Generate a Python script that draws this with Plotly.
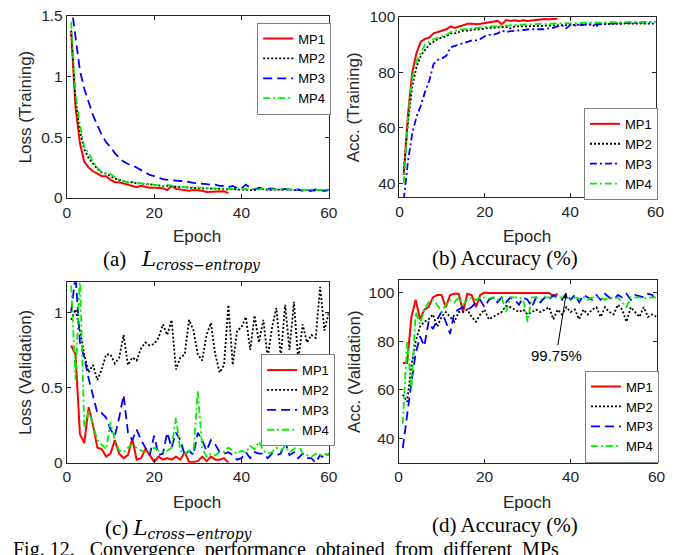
import plotly.graph_objects as go

W, H = 697, 555

# ---------------- data ----------------
ep60 = list(range(1, 61))
ep37 = list(range(1, 38))

# (a) training loss
loss_tr_mp1 = [1.37, 0.75, 0.45, 0.30, 0.25, 0.22, 0.20, 0.18, 0.18, 0.15, 0.13, 0.13, 0.12, 0.11, 0.10,
               0.09, 0.10, 0.09, 0.085, 0.085, 0.08, 0.08, 0.065, 0.10, 0.075, 0.07, 0.07, 0.06, 0.065, 0.065,
               0.06, 0.05, 0.05, 0.05, 0.05, 0.055, 0.04]
loss_tr_mp2 = [1.38, 0.80, 0.55, 0.40, 0.33, 0.28, 0.24, 0.21, 0.20, 0.18, 0.16, 0.15, 0.14, 0.13, 0.13,
               0.12, 0.12, 0.115, 0.11, 0.11, 0.105, 0.10, 0.10, 0.095, 0.09, 0.09, 0.09, 0.085, 0.085, 0.08,
               0.08, 0.08, 0.08, 0.075, 0.075, 0.075, 0.07, 0.075, 0.07, 0.07, 0.07, 0.07, 0.065, 0.075, 0.07,
               0.07, 0.065, 0.07, 0.07, 0.075, 0.07, 0.065, 0.065, 0.07, 0.065, 0.06, 0.065, 0.065, 0.06, 0.065]
loss_tr_mp3 = [1.60, 1.30, 1.05, 0.90, 0.78, 0.68, 0.60, 0.52, 0.46, 0.42, 0.37, 0.33, 0.30, 0.28, 0.27,
               0.25, 0.23, 0.21, 0.19, 0.18, 0.165, 0.155, 0.15, 0.145, 0.14, 0.14, 0.14, 0.13, 0.125, 0.12,
               0.12, 0.115, 0.11, 0.11, 0.10, 0.10, 0.09, 0.10, 0.08, 0.08, 0.11, 0.085, 0.07, 0.085, 0.08,
               0.075, 0.08, 0.075, 0.07, 0.075, 0.07, 0.065, 0.07, 0.06, 0.065, 0.06, 0.07, 0.065, 0.06, 0.07]
loss_tr_mp4 = [1.45, 0.85, 0.60, 0.42, 0.37, 0.30, 0.25, 0.21, 0.20, 0.20, 0.17, 0.15, 0.14, 0.13, 0.13,
               0.125, 0.12, 0.115, 0.11, 0.11, 0.105, 0.10, 0.11, 0.10, 0.095, 0.09, 0.09, 0.09, 0.085, 0.085,
               0.085, 0.08, 0.08, 0.08, 0.075, 0.075, 0.075, 0.075, 0.07, 0.075, 0.075, 0.07, 0.075, 0.07, 0.08,
               0.075, 0.07, 0.07, 0.075, 0.08, 0.07, 0.075, 0.07, 0.065, 0.065, 0.07, 0.065, 0.065, 0.07, 0.07]

# (b) training accuracy
acc_tr_mp1 = [43, 65, 80, 87, 91, 92, 92.5, 94, 94.5, 95, 95.5, 96.5, 96, 96.5, 97,
              97.5, 97.5, 97.3, 97.5, 97.8, 98, 98.2, 98.5, 97.3, 98.8, 98.5, 98.7, 98.5, 98.7, 98.5,
              98.6, 98.7, 99, 99.2, 99, 99.2, 99.3]
acc_tr_mp2 = [44, 62, 75, 82, 86, 88, 90, 91, 92, 92.5, 93, 94, 94, 94.5, 95,
              95, 95.3, 95.5, 95.5, 95.8, 96, 96, 96.2, 96.3, 96.3, 95.8, 96.5, 96.5, 96.4, 96.5,
              96.6, 96.7, 96.6, 96.8, 96.8, 96.9, 97, 96.8, 97, 97, 97.1, 97.2, 97.1, 97.3, 97.2,
              96.5, 97.3, 97.4, 97.4, 97.5, 97.5, 97.4, 97.6, 97.5, 97.6, 97.5, 97.6, 97.5, 97.6, 97.5]
acc_tr_mp3 = [34, 48, 58, 64, 68, 73, 77, 83, 84.5, 85, 86, 89, 89.5, 90, 90.5,
              91, 91.5, 91.5, 92, 93, 93.5, 93.5, 94, 95, 94.5, 94.8, 95, 95.2, 95.3, 95.4,
              95.5, 95.5, 95.6, 95.5, 95.8, 96, 96.5, 97, 95.8, 97, 96.8, 97, 97.1, 97.2, 97.2,
              97.3, 97.4, 97.5, 97.5, 97.6, 97.6, 97.7, 97.7, 97.8, 97.8, 97.8, 97.9, 97.9, 98, 98.2]
acc_tr_mp4 = [40, 64, 78, 84, 87, 90, 91, 92, 92.5, 93, 93.5, 94.5, 95, 95.3, 95.5,
              95.5, 95.8, 96, 96, 96.2, 96.5, 96.5, 96.7, 96.8, 96.8, 97, 97, 97.1, 97.2, 97.2,
              97.3, 97.3, 97.4, 97.4, 97.5, 97.5, 97.6, 97.6, 97.7, 97.6, 97.7, 97.8, 97.8, 97.8, 97.9,
              98, 97.9, 98, 98, 98, 98.1, 98, 98.1, 98.1, 98.2, 98.1, 98.1, 98.2, 98.1, 98.2]

# (c) validation loss
loss_va_mp1 = [0.78, 0.72, 0.19, 0.13, 0.37, 0.25, 0.10, 0.09, 0.04, 0.06, 0.15, 0.06, 0.03, 0.05, 0.16,
               0.02, 0.03, 0.09, 0.05, 0.005, 0.04, 0.02, 0.03, 0.02, 0.04, 0.02, 0.07, 0.005, 0.005, 0.01,
               0.04, 0.01, 0.04, 0.02, 0.02, 0.03, 0.0]
loss_va_mp2 = [0.95, 1.02, 0.88, 0.72, 0.60, 0.65, 0.55, 0.62, 0.72, 0.72, 0.66, 0.70, 0.85, 0.65, 0.70,
               0.68, 0.76, 0.80, 0.78, 0.79, 0.83, 0.92, 0.85, 0.95, 0.62, 0.70, 0.72, 0.95, 0.88, 0.72,
               0.68, 0.85, 0.93, 0.72, 0.60, 0.65, 1.05, 0.65, 0.88, 0.90, 0.97, 0.75, 0.98, 0.80, 0.95,
               0.70, 0.90, 1.03, 0.70, 1.05, 0.75, 1.07, 0.68, 0.92, 0.80, 0.85, 0.83, 1.17, 0.88, 1.00]
loss_va_mp3 = [1.00, 1.25, 0.80, 0.70, 0.56, 0.45, 0.33, 0.33, 0.30, 0.22, 0.18, 0.30, 0.45, 0.20, 0.15,
               0.22, 0.15, 0.10, 0.05, 0.18, 0.05, 0.06, 0.20, 0.10, 0.20, 0.15, 0.05, 0.08, 0.05, 0.20,
               0.15, 0.08, 0.15, 0.12, 0.07, 0.06, 0.07, 0.05, 0.02, 0.03, 0.07, 0.03, 0.07, 0.06, 0.06,
               0.03, 0.06, 0.05, 0.06, 0.14, 0.05, 0.07, 0.03, 0.06, 0.03, 0.03, 0.0, 0.05, 0.03, 0.06]
loss_va_mp4 = [1.18, 0.55, 1.25, 0.24, 0.35, 0.25, 0.15, 0.12, 0.09, 0.27, 0.15, 0.08, 0.07, 0.10, 0.12,
               0.10, 0.08, 0.07, 0.08, 0.10, 0.08, 0.07, 0.08, 0.10, 0.30, 0.08, 0.06, 0.08, 0.06, 0.48,
               0.10, 0.04, 0.06, 0.05, 0.07, 0.07, 0.10, 0.08, 0.06, 0.08, 0.07, 0.11, 0.09, 0.14, 0.08,
               0.06, 0.07, 0.10, 0.08, 0.11, 0.07, 0.09, 0.12, 0.06, 0.05, 0.04, 0.06, 0.05, 0.06, 0.05]

# (d) validation accuracy
acc_va_mp1 = [71, 71, 90, 97, 89, 93, 94, 98, 99, 99, 94, 99, 99.5, 99.5, 92,
              99.5, 99, 94, 99, 100, 99.8, 99.8, 99.8, 99.8, 99.8, 99.8, 99.8, 100, 100, 100,
              100, 100, 99.8, 99.8, 99.8, 98.5, 99.5]
acc_va_mp2 = [58, 55, 70, 80, 86, 88, 89, 91, 86, 90, 92, 90, 88, 92, 92,
              93, 90, 88, 91, 93, 89, 90, 91, 92, 94.5, 94, 93, 92, 93, 91,
              92, 93, 92, 93, 94, 89, 93, 91, 94, 92, 93, 89, 93, 91, 93,
              94, 90, 94, 92, 91, 95, 93, 88, 94, 92, 90, 94, 90, 91, 90]
acc_va_mp3 = [36, 50, 63, 75, 82, 78, 88, 85, 89, 92, 88, 83, 92, 93, 94,
              93, 94, 96, 97, 94, 97, 98, 96, 98, 96, 98, 97, 95, 98, 97,
              94, 98, 96, 98, 97, 99, 98, 97, 99.75, 97, 99, 96, 99, 98, 97,
              99, 97, 99.5, 98, 97, 99, 98, 99.5, 97, 99, 98.5, 98, 99.5, 99, 96]
acc_va_mp4 = [46, 80, 60, 92, 87, 93, 96, 97, 95, 92, 95, 97, 96, 98, 95,
              97, 98, 97, 98, 98, 97.5, 98, 97, 98, 92, 98, 98, 98, 97, 88,
              98, 98, 97, 98, 98, 98, 98, 98, 98, 97, 98, 97.5, 98, 97, 98,
              98, 98, 97, 98, 97.5, 98, 96, 94, 98, 98, 98, 97.5, 98, 98, 98]

names = ["MP1", "MP2", "MP3", "MP4"]
x_tick_step = 20
y_tick_step = {1: 0.5, 2: 20, 3: 0.5, 4: 20}

# ---------------- layout helpers (page pixels -> paper fraction) ----------------
def px_x(p):
    return p / W

def px_y(p):
    return 1 - p / H

AX = "#262626"
SANS = "Liberation Sans, Arial, sans-serif"
TICKF = dict(family=SANS, size=15.5, color=AX)

panels = {
    # (left, right, top, bottom) in page pixels
    1: (64, 331, 7, 195),
    2: (403, 664, 8, 194),
    3: (64, 331, 282, 468),
    4: (402, 665, 280, 468),
}
yranges = {1: [0, 1.5], 2: [35, 100], 3: [0, 1.2], 4: [30, 105]}

fig = go.Figure()

colors = ["#ff0000", "#000000", "#0000ff", "#00f000"]
DOT = "2px,2px"
DASH = "9px,5px"
DASHDOT = "7px,3px,2px,3px"
styles = {
    1: ["solid", DOT, DASH, DASHDOT],
    2: ["solid", DOT, DASHDOT, DASHDOT],
    3: ["solid", DOT, DASH, DASHDOT],
    4: ["solid", DOT, DASH, DASHDOT],
}
data = {
    1: [(ep37, loss_tr_mp1), (ep60, loss_tr_mp2), (ep60, loss_tr_mp3), (ep60, loss_tr_mp4)],
    2: [(ep37, acc_tr_mp1), (ep60, acc_tr_mp2), (ep60, acc_tr_mp3), (ep60, acc_tr_mp4)],
    3: [(ep37, loss_va_mp1), (ep60, loss_va_mp2), (ep60, loss_va_mp3), (ep60, loss_va_mp4)],
    4: [(ep37, acc_va_mp1), (ep60, acc_va_mp2), (ep60, acc_va_mp3), (ep60, acc_va_mp4)],
}
legend_pos = {1: (258, 14), 2: (591, 102), 3: (262, 356), 4: (592, 373)}

layout = {}
for k in range(1, 5):
    sfx = "" if k == 1 else str(k)
    lg = "legend" if k == 1 else f"legend{k}"
    for i in range(4):
        xs, ys = data[k][i]
        fig.add_trace(go.Scatter(
            x=xs, y=ys, mode="lines", name=names[i],
            line=dict(color=colors[i], width=2 if i == 0 else 1.8, dash=styles[k][i]),
            xaxis=f"x{sfx}", yaxis=f"y{sfx}", legend=lg, showlegend=True,
        ))
    l, r, t, b = panels[k]
    layout[f"xaxis{sfx}"] = dict(
        domain=[px_x(l), px_x(r)], range=[0, 60], anchor=f"y{sfx}",
        tickmode="linear", tick0=0, dtick=x_tick_step,
        ticks="inside", ticklen=4, tickcolor=AX,
        showline=True, linecolor=AX, linewidth=1, mirror="ticks",
        showgrid=False, zeroline=False, tickfont=TICKF,
        ticklabeloverflow="allow",
    )
    layout[f"yaxis{sfx}"] = dict(
        domain=[px_y(b), px_y(t)], range=yranges[k], anchor=f"x{sfx}",
        tickmode="linear", tick0=0, dtick=y_tick_step[k],
        ticks="inside", ticklen=4, tickcolor=AX,
        showline=True, linecolor=AX, linewidth=1, mirror="ticks",
        showgrid=False, zeroline=False, tickfont=TICKF,
        ticklabeloverflow="allow",
    )
    lx, ly = legend_pos[k]
    layout[lg] = dict(
        x=px_x(lx), y=px_y(ly), xanchor="left", yanchor="top",
        bgcolor="white", bordercolor="#808080", borderwidth=1,
        font=dict(family=SANS, size=13, color="black"),
        itemwidth=30, tracegroupgap=0,
    )

annotations = []
LBL = dict(family=SANS, size=17, color=AX)
ylabels = {1: ("Loss (Training)", 22, 101), 2: ("Acc. (Training)", 357, 101),
           3: ("Loss (Validation)", 22, 375), 4: ("Acc. (Validation)", 357, 374)}
for k, (txt, xx, yy) in ylabels.items():
    annotations.append(dict(text=txt, x=px_x(xx), y=px_y(yy), xref="paper", yref="paper",
                            showarrow=False, textangle=-90, font=LBL, xanchor="center", yanchor="middle"))
xlabels = {1: (197, 235), 2: (533, 235), 3: (197, 509), 4: (533, 509)}
for k, (xx, yy) in xlabels.items():
    annotations.append(dict(text="Epoch", x=px_x(xx), y=px_y(yy), xref="paper", yref="paper",
                            showarrow=False, font=LBL, xanchor="center", yanchor="middle"))

SERIF = "Liberation Serif, Times New Roman, serif"
CAP = dict(family=SERIF, size=21, color="black")
MATH = ("<span style='font-family:DejaVu Serif;font-size:21px'><i>L</i></span>"
        "<sub><span style='font-family:DejaVu Serif;font-size:14px'><i>cross−entropy</i></span></sub>")
captions = [
    ("(a)   " + MATH, 181, 259),
    ("(b) Accuracy (%)", 511, 257),
    ("(c) " + MATH, 178, 536),
    ("(d) Accuracy (%)", 511, 532),
]
for txt, xx, yy in captions:
    annotations.append(dict(text=txt, x=px_x(xx), y=px_y(yy), xref="paper", yref="paper",
                            showarrow=False, font=CAP, xanchor="center", yanchor="middle"))
annotations.append(dict(
    text="Fig. 12.&nbsp;&nbsp; Convergence&nbsp; performance&nbsp; obtained&nbsp; from&nbsp; different&nbsp; MPs",
    x=px_x(7), y=px_y(544), xref="paper", yref="paper", showarrow=False,
    font=dict(family=SERIF, size=20, color="black"), xanchor="left", yanchor="top"))

# 99.75% annotation pointing to MP3 peak
peak_ep = 39
peak_val = acc_va_mp3[peak_ep - 1]
annotations.append(dict(text=f"{peak_val}%", x=peak_ep, y=peak_val, xref="x4", yref="y4",
                        showarrow=True, arrowhead=2, arrowsize=1, arrowwidth=1, arrowcolor="black",
                        ax=-10, ay=62, font=dict(family=SANS, size=15, color="black")))

fig.update_layout(
    width=W, height=H, margin=dict(l=0, r=0, t=0, b=0),
    paper_bgcolor="white", plot_bgcolor="white",
    annotations=annotations, **layout,
)

fig.write_html("out.html", config={"displayModeBar": False},
               post_script="document.body.style.margin='0';document.body.style.overflow='hidden';")
